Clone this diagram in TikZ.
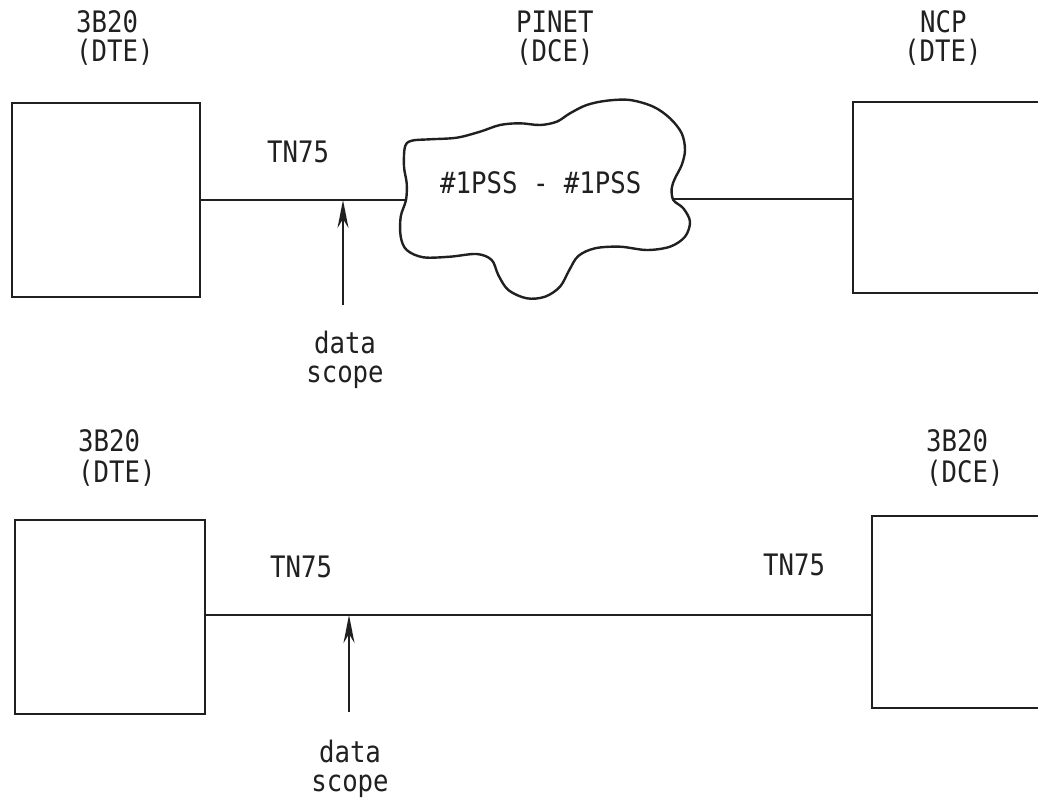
\documentclass[tikz,border=0pt]{standalone}
\usepackage{fontspec}
\newfontfamily\typew{DejaVu Sans Mono}
\usetikzlibrary{arrows.meta}
\definecolor{ink}{RGB}{32,32,32}
\newcommand\tw[1]{\scalebox{1}[1.15]{#1}}
\begin{document}
\begin{tikzpicture}[x=1pt,y=-1pt,
  box/.style={draw=ink, line width=2.6pt, inner sep=0pt},
  lbl/.style={font=\typew\fontsize{25.7}{30}\selectfont, text=ink, inner sep=0pt, anchor=base west},
  lblc/.style={lbl, anchor=base},
  conn/.style={draw=ink, line width=1.6pt},
  probe/.style={conn, -{Stealth[length=28pt,width=11pt,inset=9pt]}},
  cloudline/.style={draw=ink, line width=2.4pt, line join=round}]
\useasboundingbox (0,0) rectangle (1038,808);
\clip (0,0) rectangle (1038,808);

% boxes
\node[box, minimum width=188pt, minimum height=194pt] (boxA) at (106,200) {};
\node[box, minimum width=197pt, minimum height=191pt] (boxB) at (951.5,197.5) {};
\node[box, minimum width=190pt, minimum height=194pt] (boxC) at (110,617) {};
\node[box, minimum width=178pt, minimum height=192pt] (boxD) at (961,612) {};

% cloud
\draw[cloudline] plot[smooth cycle, tension=0.55] coordinates {
 (405,146.7) (404,166.7) (406.7,183.3) (406,200) (400.7,216.7) (400.7,236.7)
 (406.7,250) (423.3,257.3) (450,256.7) (476.7,254) (491.7,260) (498.3,275)
 (508.3,290) (526.7,298.3) (545,296.7) (560,286.7) (569.3,270) (578.3,256)
 (595,248.3) (620,246.7) (646.7,250) (670,246.7) (685,236.7) (690,221.7)
 (683.3,208.3) (673.3,200) (671.7,188.3) (675,178.3) (681.7,165) (685,150)
 (681.7,133.3) (670,118.3) (653.3,106.7) (630,100) (606.7,100.7) (586.7,105)
 (570,113.3) (556.7,121.7) (540,125) (520,123.3) (500,125) (480,131.7)
 (456.7,137.7) (430,139.3) (411.7,140.7)};
\coordinate (cL) at (406,200);
\coordinate (cR) at (673.3,199);
\node[lbl] (ctext) at (440,193) {\tw{\#1PSS - \#1PSS}};

% connectors
\coordinate (tap1) at (343,200);
\coordinate (tail1) at (343,305);
\coordinate (tap2) at (349,615);
\coordinate (tail2) at (349,712);
\draw[conn] (boxA.east |- cL) -- (cL);
\draw[conn] (cR) -- (boxB.west |- cR);
\draw[conn] (boxC.east |- tap2) -- (boxD.west |- tap2);
\draw[probe] (tail1) -- (tap1);
\draw[probe] (tail2) -- (tap2);

% labels top
\node[lbl] (lA1) at (76,33) {\tw{3B20}};
\node[lbl] (lA2) at (76,62) {\tw{(DTE)}};
\node[lbl] (lP1) at (516,33) {\tw{PINET}};
\node[lbl] (lP2) at (516,62) {\tw{(DCE)}};
\node[lbl] (lN1) at (920,33) {\tw{NCP}};
\node[lbl] (lN2) at (904,62) {\tw{(DTE)}};
\node[lbl] (tn1) at (267,162) {\tw{TN75}};
\node[lblc] (d1) at (345,353) {\tw{data}};
\node[lblc] (s1) at (345,382) {\tw{scope}};

% labels bottom
\node[lbl] (lC1) at (78,451) {\tw{3B20}};
\node[lbl] (lC2) at (78,482) {\tw{(DTE)}};
\node[lbl] (lD1) at (926,451) {\tw{3B20}};
\node[lbl] (lD2) at (926,482) {\tw{(DCE)}};
\node[lbl] (tn2) at (270,577) {\tw{TN75}};
\node[lbl] (tn3) at (763,575) {\tw{TN75}};
\node[lblc] (d2) at (350,762) {\tw{data}};
\node[lblc] (s2) at (350,791) {\tw{scope}};
\end{tikzpicture}
\end{document}
